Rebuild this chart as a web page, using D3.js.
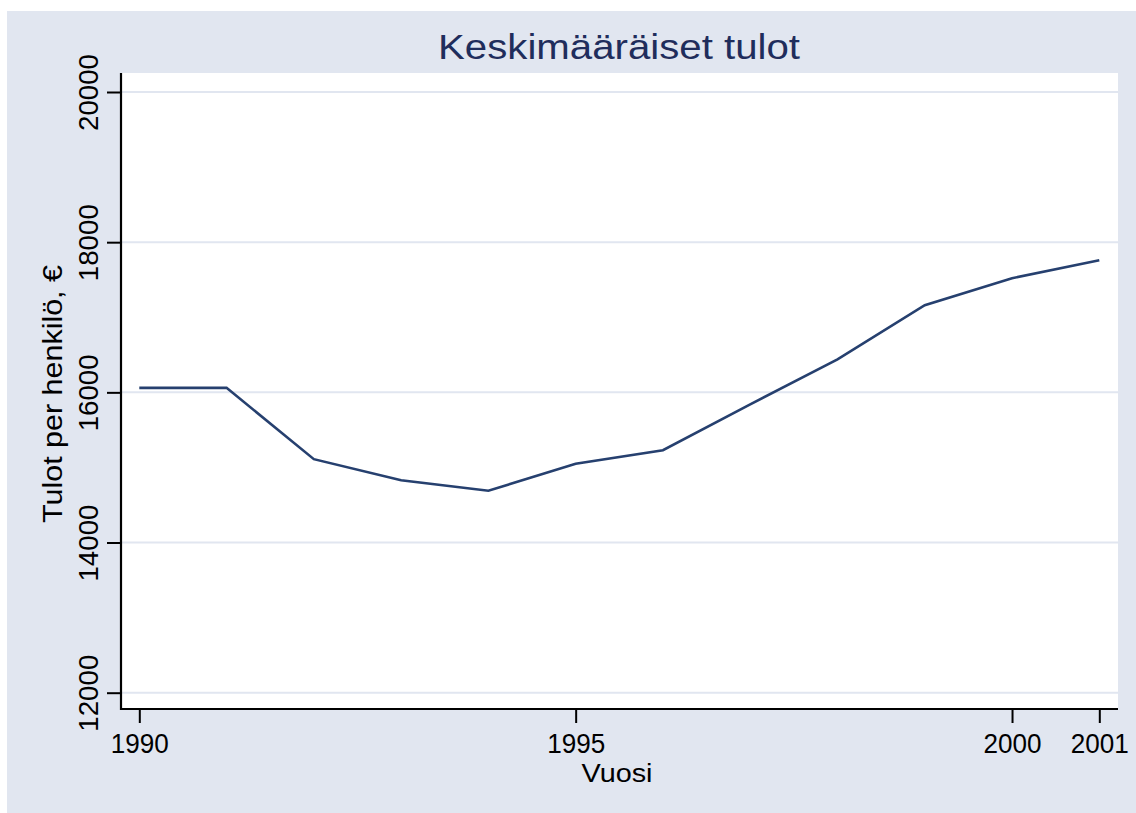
<!DOCTYPE html>
<html>
<head>
<meta charset="utf-8">
<script src="https://cdn.jsdelivr.net/npm/d3@7"></script>
<style>
  html, body { margin: 0; padding: 0; background: #ffffff; }
  svg { display: block; font-family: "Liberation Sans", Arial, sans-serif; }
</style>
</head>
<body>
<div id="chart"></div>
<script>
// data
const years = [1990, 1991, 1992, 1993, 1994, 1995, 1996, 1997, 1998, 1999, 2000, 2001];
const income = [16060, 16060, 15110, 14830, 14690, 15050, 15230, 15840, 16440, 17160, 17520, 17760];
const xTicks = [1990, 1995, 2000, 2001];
const yTicks = [12000, 14000, 16000, 18000, 20000];

const titleText = 'Keskimääräiset tulot';
const xTitle = 'Vuosi';
const yTitle = 'Tulot per henkilö, €';

const width = 1136, height = 813;

const plot = { left: 121, top: 73, right: 1118, bottom: 709 };

let svg = d3.select('#chart').append('svg')
  .attr('width', width)
  .attr('height', height);

// graph region
svg.append('rect')
  .attr('x', 7).attr('y', 11)
  .attr('width', width - 7).attr('height', height - 11)
  .attr('fill', '#e1e6f0');

// plot region
svg.append('rect')
  .attr('x', plot.left).attr('y', plot.top)
  .attr('width', plot.right - plot.left).attr('height', plot.bottom - plot.top)
  .attr('fill', '#ffffff');

let x = d3.scaleLinear()
  .domain([1990, 2001])
  .range([139.3, 1099.3]);

let y = d3.scaleLinear()
  .domain([12000, 20000])
  .range([692.7, 92]);

// grid
svg.append('g')
  .selectAll('line')
  .data(yTicks)
  .enter()
  .append('line')
  .attr('x1', plot.left)
  .attr('x2', plot.right)
  .attr('y1', d => y(d))
  .attr('y2', d => y(d))
  .attr('stroke', '#e1e6f0')
  .attr('stroke-width', 2);

// line
let line = d3.line()
  .x((d, i) => x(years[i]))
  .y(d => y(d));

svg.append('path')
  .datum(income)
  .attr('d', line)
  .attr('fill', 'none')
  .attr('stroke', '#26406f')
  .attr('stroke-width', 2.6)
  .attr('stroke-linejoin', 'miter');

// x axis
let xAxis = svg.append('g')
  .attr('transform', 'translate(0,' + plot.bottom + ')')
  .call(d3.axisBottom(x).tickValues(xTicks).tickFormat(d3.format('d')).tickSize(14).tickPadding(6));

xAxis.select('.domain').remove();
xAxis.selectAll('.tick line').attr('stroke', '#000').attr('stroke-width', 2);
xAxis.selectAll('.tick text')
  .attr('fill', '#000')
  .style('font-size', '27px')
  .attr('y', 44)
  .attr('dy', 0)
  .attr('textLength', 58)
  .attr('lengthAdjust', 'spacingAndGlyphs');

svg.append('line')
  .attr('x1', plot.left - 1).attr('x2', plot.right)
  .attr('y1', plot.bottom).attr('y2', plot.bottom)
  .attr('stroke', '#000').attr('stroke-width', 2.2);

// y axis
let yAxis = svg.append('g')
  .attr('transform', 'translate(' + plot.left + ',0)')
  .call(d3.axisLeft(y).tickValues(yTicks).tickFormat(d3.format('d')).tickSize(14));

yAxis.select('.domain').remove();
yAxis.selectAll('.tick line').attr('stroke', '#000').attr('stroke-width', 2);
yAxis.selectAll('.tick text')
  .attr('fill', '#000')
  .style('font-size', '28px')
  .attr('x', null).attr('dy', null)
  .attr('text-anchor', 'middle')
  .attr('textLength', 77)
  .attr('lengthAdjust', 'spacingAndGlyphs')
  .attr('transform', 'translate(-23,0) rotate(-90)');

svg.append('line')
  .attr('x1', plot.left).attr('x2', plot.left)
  .attr('y1', plot.top).attr('y2', plot.bottom + 1)
  .attr('stroke', '#000').attr('stroke-width', 2.2);

// titles
svg.append('text')
  .attr('x', 619).attr('y', 59)
  .attr('text-anchor', 'middle')
  .attr('fill', '#1f2d5c')
  .style('font-size', '35px')
  .attr('textLength', 362)
  .attr('lengthAdjust', 'spacingAndGlyphs')
  .text(titleText);

svg.append('text')
  .attr('x', 617).attr('y', 782)
  .attr('text-anchor', 'middle')
  .attr('fill', '#000')
  .style('font-size', '26px')
  .attr('textLength', 71)
  .attr('lengthAdjust', 'spacingAndGlyphs')
  .text(xTitle);

svg.append('text')
  .attr('transform', 'translate(62,' + 394 + ') rotate(-90)')
  .attr('text-anchor', 'middle')
  .attr('fill', '#000')
  .style('font-size', '27px')
  .attr('textLength', 258)
  .attr('lengthAdjust', 'spacingAndGlyphs')
  .text(yTitle);
</script>
</body>
</html>
